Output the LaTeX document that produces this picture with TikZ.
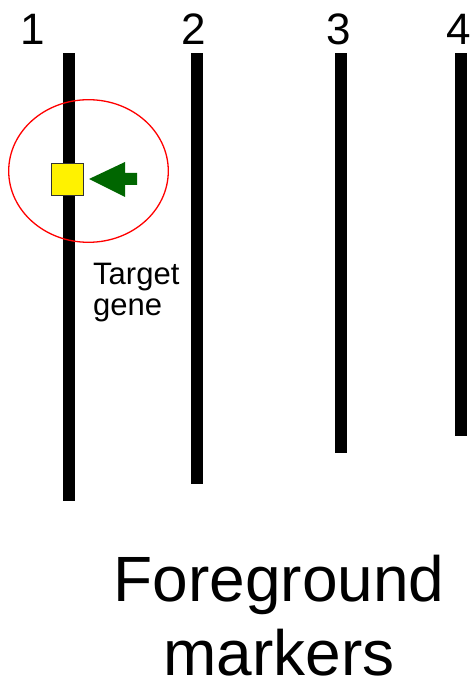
\documentclass[tikz,border=0pt]{standalone}
\usepackage{fontspec}
\setmainfont{Liberation Sans}
\usepackage{tikz}
\usetikzlibrary{positioning}
\definecolor{arrowgreen}{RGB}{0,102,0}

\begin{document}
\begin{tikzpicture}[x=1pt, y=-1pt,
    bar/.style={fill=black},
    numlabel/.style={anchor=base, inner sep=0, font=\fontsize{44}{44}\selectfont},
    genebox/.style={draw=black!80, line width=1pt, fill=yellow, minimum size=32pt, inner sep=0}]
        \useasboundingbox (0, 0) rectangle (474, 684);
        % Chromosomes
        \foreach \i/\x/\bot/\lx in {1/69/501/33, 2/197/484/194, 3/341/453/339, 4/461/436/459} {
            \fill [bar] (\x-6, 53) rectangle (\x+6, \bot);
            \node (num\i) [numlabel] at (\lx, 45) {\i};
        }
        % Target gene
        \node (gene) [genebox] at (67, 179.5) {};
        \draw [red, line width=1.3pt] (88.5, 171) ellipse [x radius=79.8, y radius=71.3];
        \fill [arrowgreen] (89, 179) -- (125, 162) -- (125, 173) -- (137, 173) -- (137, 185) -- (125, 185) -- (125, 197) -- cycle;
        \node (target) [anchor=north west, inner sep=0, align=left, font=\fontsize{31}{31}\selectfont] at (93, 263) {Target\\gene};
        % Title
        \node (title) [anchor=north, inner sep=0, align=center, font=\fontsize{64}{74}\selectfont] at (279, 555) {Foreground\\markers};
    \end{tikzpicture}
\end{document}
